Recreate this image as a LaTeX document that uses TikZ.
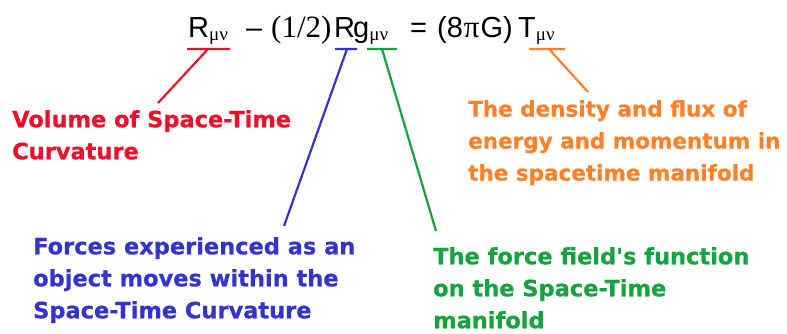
\documentclass[tikz,border=0pt]{standalone}
\usepackage{fontspec}
\newfontfamily\labfont{DejaVu Sans Bold}[FakeBold=0.6]
\newfontfamily\eqsans{Liberation Sans}
\newfontfamily\eqser{Liberation Serif}
\definecolor{cred}{RGB}{232,18,42}
\definecolor{cblue}{RGB}{52,52,204}
\definecolor{cgreen}{RGB}{22,162,62}
\definecolor{corange}{RGB}{255,128,40}
\newcommand{\submn}{\raisebox{-3pt}{\eqser\fontsize{19}{19}\selectfont μν}}
\begin{document}
\begin{tikzpicture}[x=1pt,y=-1pt,
  eqpart/.style={inner sep=0pt, anchor=base west, font=\eqsans\fontsize{29}{29}\selectfont},
  lbl/.style={inner sep=0pt, anchor=north west, align=left, font=\labfont\fontsize{22.5}{32}\selectfont},
  conn/.style={line width=2.2pt}]
\useasboundingbox (0,0) rectangle (787,333);
\fill[white] (0,0) rectangle (787,333);
% equation
\node[eqpart] (tR) at (188,37) {R\submn};
\node[eqpart] (minus) at (246,37) {–};
\node[eqpart, font=\eqser\fontsize{31}{31}\selectfont] (half) at (271,37) {(1/2)};
\node[eqpart] (tRs) at (334,37) {R};
\node[eqpart] (tg) at (353,37) {g\submn};
\node[eqpart] (eq) at (410,37) {=};
\node[eqpart] (const) at (437,37) {(8\kern1pt{\eqser\fontsize{31}{31}\selectfont π}\kern1pt G)};
\node[eqpart] (tT) at (518,37) {T\submn};
% labels
\node[lbl, text=cred] (lred) at (12,110) {Volume of Space-Time\\Curvature};
\node[lbl, text=corange, font=\labfont\fontsize{21.5}{32}\selectfont] (lorange) at (468,100) {The density and flux of\\energy and momentum in\\the spacetime manifold};
\node[lbl, text=cblue] (lblue) at (33,237) {Forces experienced as an\\object moves within the\\Space-Time Curvature};
\node[lbl, text=cgreen] (lgreen) at (433,247) {The force field's function\\on the Space-Time\\manifold};
% underline and connector points
\coordinate (r1) at (187,49); \coordinate (r2) at (230,49); \coordinate (rm) at (208,49); \coordinate (re) at (158,103);
\coordinate (b1) at (335,49); \coordinate (b2) at (357,49); \coordinate (bm) at (347,49); \coordinate (be) at (284,226);
\coordinate (g1) at (367,49); \coordinate (g2) at (397,49); \coordinate (gm) at (382,49); \coordinate (ge) at (436,231);
\coordinate (o1) at (529,49); \coordinate (o2) at (565,49); \coordinate (om) at (549,49); \coordinate (oe) at (588,92);
\draw[conn, cred] (r1) -- (r2) (rm) -- (re);
\draw[conn, cblue] (b1) -- (b2) (bm) -- (be);
\draw[conn, cgreen] (g1) -- (g2) (gm) -- (ge);
\draw[conn, corange] (o1) -- (o2) (om) -- (oe);
\end{tikzpicture}
\end{document}
